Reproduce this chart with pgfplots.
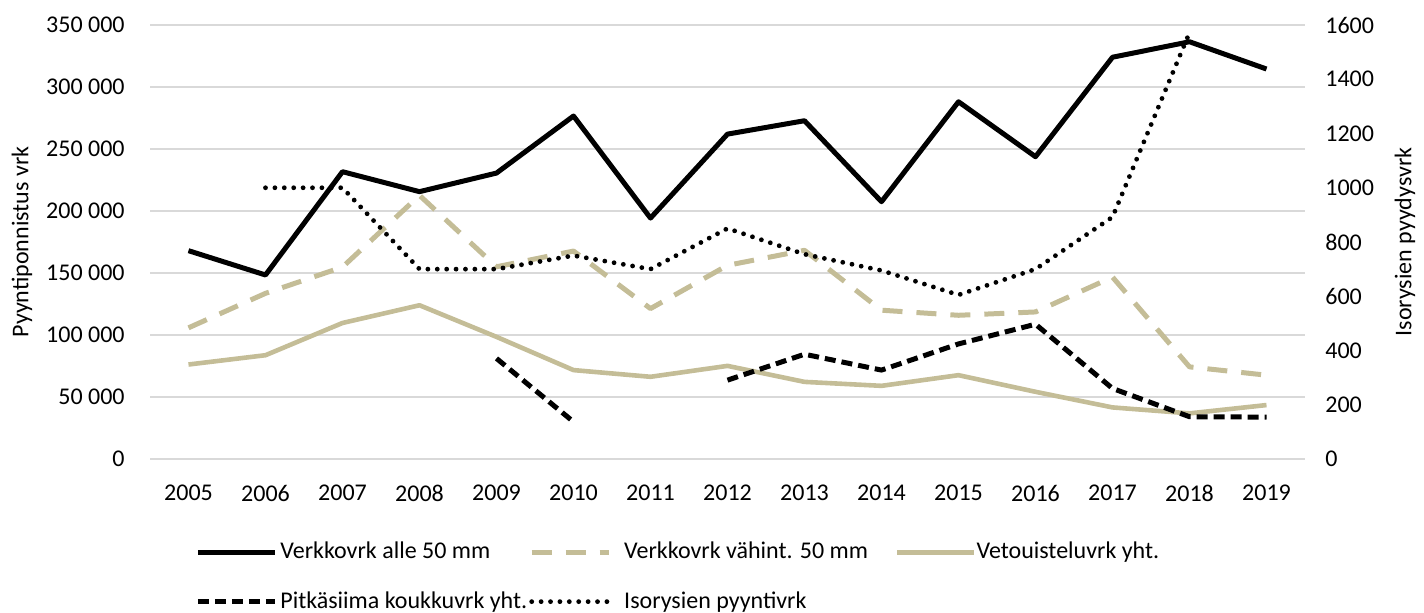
\documentclass[border=0pt]{standalone}
\usepackage{fontspec}
\setmainfont{Carlito}
\usepackage{pgfplots}
\pgfplotsset{compat=1.18}
\definecolor{tanc}{RGB}{196,189,151}
\definecolor{gridgray}{RGB}{217,217,217}
\pgfplotsset{
  mybase/.style={
    at={(75pt,76.5pt)}, anchor=south west,
    scale only axis, width=577.5pt, height=217pt,
    xmin=2004.5, xmax=2019.5,
    axis line style={draw=none},
    major tick length=0pt,
    /pgf/number format/assume math mode=true,
    /pgf/number format/1000 sep={},
    font=\fontsize{12}{14.4}\selectfont,
    scaled y ticks=false,
    legend image code/.code={\draw[##1] (0pt,0pt) -- (38.5pt,0pt);},
  },
  solidblack/.style={black, line width=2.5pt, line join=round},
  dashtan/.style={tanc, line width=2.5pt, line join=round, dash pattern=on 10pt off 7pt},
  solidtan/.style={tanc, line width=2.3pt, line join=round},
  dashblack/.style={black, line width=2.5pt, line join=round, dash pattern=on 5.5pt off 3pt},
  dotblack/.style={black, line width=2.4pt, line cap=round, line join=round, dash pattern=on 0pt off 4.7pt},
}
\begin{document}
\fontsize{12}{14.4}\selectfont
\begin{tikzpicture}
\useasboundingbox (0,0) rectangle (712pt,306pt);
\begin{axis}[mybase,
  ymin=0, ymax=350000,
  ytick={0,50000,100000,150000,200000,250000,300000,350000},
  yticklabels={0,50 000,100 000,150 000,200 000,250 000,300 000,350 000},
  ymajorgrids, grid style={gridgray, line width=0.8pt},
  xtick={2005,2006,2007,2008,2009,2010,2011,2012,2013,2014,2015,2016,2017,2018,2019},
  xticklabel style={inner sep=0pt, anchor=north, yshift=-12.7pt},
  yticklabel style={inner sep=0pt, anchor=east, xshift=-12.5pt},
  ylabel={Pyyntiponnistus vrk},
  every axis y label/.style={at={(axis description cs:0,0.5)}, xshift=-64pt, rotate=90, anchor=center},
]
\addplot[solidblack] coordinates {(2005,168000)(2006,148400)(2007,231700)(2008,215600)(2009,230600)(2010,276600)(2011,194300)(2012,262000)(2013,272800)(2014,207500)(2015,288100)(2016,243800)(2017,324000)(2018,336500)(2019,314500)};
\addplot[dashtan] coordinates {(2005,105800)(2006,133600)(2007,154800)(2008,212600)(2009,155000)(2010,167700)(2011,121300)(2012,156200)(2013,168300)(2014,120000)(2015,115900)(2016,118600)(2017,146700)(2018,74300)(2019,67600)};
\addplot[solidtan] coordinates {(2005,76200)(2006,83700)(2007,109700)(2008,124000)(2009,98500)(2010,71700)(2011,66300)(2012,75100)(2013,62200)(2014,59000)(2015,67600)(2016,54200)(2017,41600)(2018,36800)(2019,43500)};
\addplot[dashblack] coordinates {(2009,81100)(2010,30000)};
\addplot[dashblack] coordinates {(2012,63600)(2013,84500)(2014,71700)(2015,92800)(2016,108700)(2017,56900)(2018,34100)(2019,33800)};
\end{axis}
\begin{axis}[mybase,
  ymin=0, ymax=1600,
  ytick={0,200,400,600,800,1000,1200,1400,1600},
  axis y line*=right, axis x line=none,
  yticklabel style={inner sep=0pt, anchor=west, xshift=10pt},
  ylabel={Isorysien pyydysvrk},
  every axis y label/.style={at={(axis description cs:1,0.5)}, xshift=50pt, rotate=90, anchor=center},
  legend columns=3,
  legend cell align=left,
  legend style={draw=none, fill=none, inner sep=0pt,
    at={(axis description cs:0.03896,-0.2719)}, anchor=west,
    nodes={inner sep=0pt},
    row sep=14.5pt,
    /tikz/column 1/.style={column sep=1.5pt},
    /tikz/column 2/.style={column sep=1pt},
    /tikz/column 3/.style={column sep=6.5pt},
    /tikz/column 4/.style={column sep=13.5pt},
    /tikz/column 5/.style={column sep=0pt},
    font=\fontsize{12}{14.4}\selectfont},
]
\addlegendimage{solidblack}
\addlegendentry{Verkkovrk alle 50 mm}
\addlegendimage{dashtan}
\addlegendentry{Verkkovrk vähint. 50 mm}
\addlegendimage{solidtan}
\addlegendentry{Vetouisteluvrk yht.}
\addlegendimage{dashblack}
\addlegendentry{Pitkäsiima koukkuvrk yht.}
\addplot[dotblack] coordinates {(2006,1000)(2007,1000)(2008,700)(2009,700)(2010,750)(2011,700)(2012,850)(2013,755)(2014,695)(2015,605)(2016,700)(2017,892)(2018,1572)};
\addlegendentry{Isorysien pyyntivrk}
\end{axis}
\end{tikzpicture}
\end{document}
